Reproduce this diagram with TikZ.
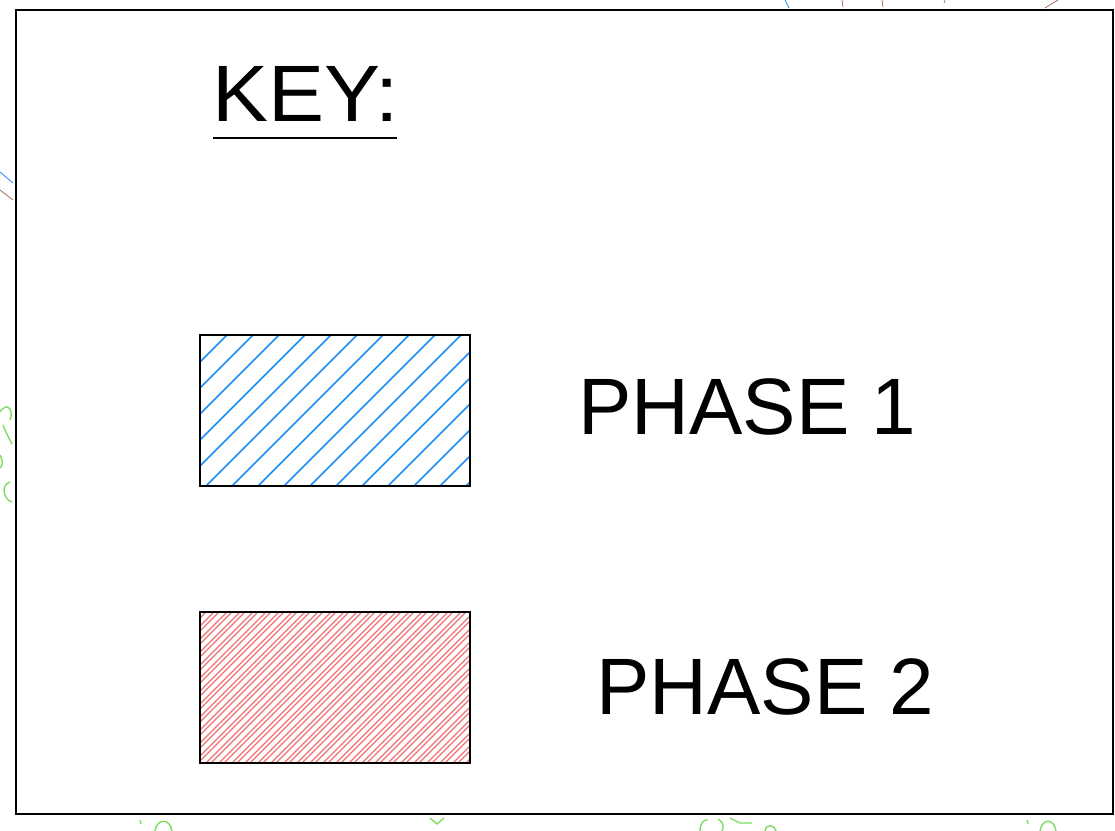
\documentclass[tikz,border=0pt]{standalone}
\usepackage{fontspec}
\setmainfont{Liberation Sans}
\definecolor{hblue}{RGB}{30,140,250}
\definecolor{hred}{RGB}{238,112,112}
\definecolor{lgreen}{RGB}{120,220,90}
\definecolor{lbrown}{RGB}{170,110,90}
\begin{document}
\begin{tikzpicture}[x=0.75pt,y=-0.75pt,
  frame/.style={draw=black,line width=1.5pt},
  keybox/.style={draw=black,line width=1pt},
  bigtext/.style={anchor=base west,inner sep=0pt,font=\fontsize{60}{60}\selectfont},
  bluehatch/.style={draw=hblue,line width=1.2pt},
  redhatch/.style={draw=hred,line width=1pt},
  frag/.style={line width=0.6pt}]
\useasboundingbox (0,0) rectangle (1115,831);
% outside fragments
\draw[frag,hblue] (785,0) -- (789,8);
\draw[frag,lbrown] (842,0) -- (843,7);
\draw[frag,lbrown] (882,0) -- (883,7);
\draw[frag,lbrown] (945,0) -- (944,3);
\draw[frag,lbrown] (1045,8) -- (1058,0);
\draw[frag,hblue] (0,172) -- (13,183);
\draw[frag,lbrown] (0,190) -- (13,200);
\draw[frag,lgreen,line width=1pt] (0,412) .. controls (8,400) and (14,412) .. (10,420);
\draw[frag,lgreen,line width=1pt] (3,425) .. controls (6,433) and (10,440) .. (12,444);
\draw[frag,lgreen,line width=1pt] (0,455) .. controls (3,460) and (3,465) .. (0,468);
\draw[frag,lgreen,line width=1pt] (10,482) .. controls (0,485) and (4,500) .. (12,502);
\draw[frag,lgreen,line width=1pt] (155,831) .. controls (157,818) and (170,818) .. (172,831);
\draw[frag,lgreen,line width=1pt] (140,820) -- (141,824);
\draw[frag,lgreen,line width=1pt] (430,818) -- (437,824) -- (444,818);
\draw[frag,lgreen,line width=1pt] (700,831) .. controls (700,822) and (705,819) .. (708,820);
\draw[frag,lgreen,line width=1pt] (718,819) .. controls (724,822) and (724,828) .. (722,831);
\draw[frag,lgreen,line width=1pt] (730,818) -- (740,823) -- (752,823);
\draw[frag,lgreen,line width=1pt] (765,831) .. controls (766,824) and (774,824) .. (776,831);
\draw[frag,lgreen,line width=1pt] (1040,831) .. controls (1042,818) and (1054,818) .. (1056,831);
\draw[frag,lgreen,line width=1pt] (1027,820) -- (1028,824);
% frame
\draw[frame] (16,10) rectangle (1113,814);
% title
\node[bigtext,xscale=1.05] (key) at (212,122) {KEY:};
\coordinate (ul1) at (213,138);
\coordinate (ul2) at (397,138);
\draw[line width=1.3pt] (ul1) -- (ul2);
% phase 1 box
\begin{scope}
\clip (200,335) rectangle (470,486);
\foreach \c in {536,562,...,960} {
  \draw[bluehatch] (\c-330,330) -- (\c-490,490);
}
\end{scope}
\draw[keybox] (200,335) rectangle (470,486);
\node[bigtext] (p1) at (578,434) {PHASE 1};
% phase 2 box
\begin{scope}
\clip (200,612) rectangle (470,763);
\foreach \c in {800,813,...,1245} {
  \draw[redhatch] (\c-600,600) -- (\c-780,780);
  \draw[redhatch] (\c-595,600) -- (\c-775,780);
}
\end{scope}
\draw[keybox] (200,612) rectangle (470,763);
\node[bigtext] (p2) at (596,714) {PHASE 2};
\end{tikzpicture}
\end{document}
